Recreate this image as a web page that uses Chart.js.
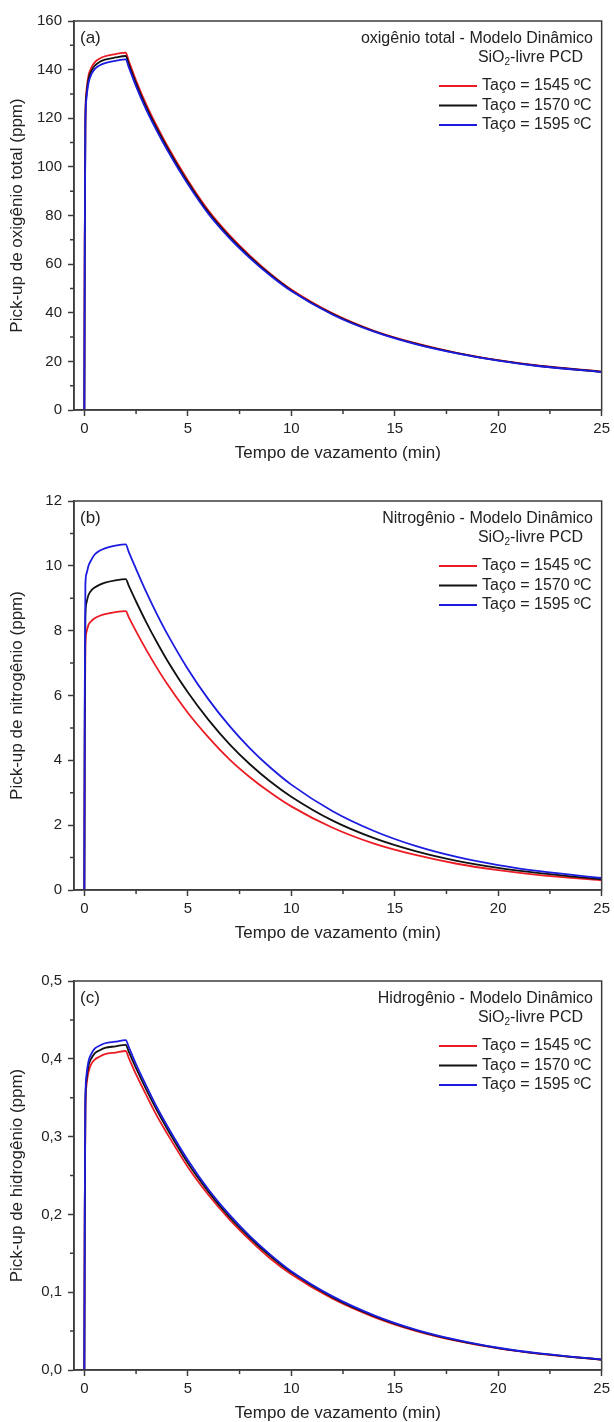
<!DOCTYPE html>
<html lang="pt-br">
<head>
    <meta charset="UTF-8">
    <meta name="viewport" content="width=device-width, initial-scale=1.0">
    <title>Pick-up de gases - Modelo Dinâmico</title>
    <style>
        body{
            margin: 0;
            background: #fff;
            overflow: hidden;
        }
        .painel{
            position: relative;
            width: 614px;
            height: 480px;
        }
    </style>
</head>
<body>
    <div class="painel"><canvas id="graficoO"></canvas></div>
    <div class="painel"><canvas id="graficoN"></canvas></div>
    <div class="painel"><canvas id="graficoH"></canvas></div>

    <script src="https://cdn.jsdelivr.net/npm/chart.js"></script>

<script>
  // Pick-up de O, N e H durante o vazamento, para três temperaturas do aço

  const tempos = [0, 0.02, 0.05, 0.1, 0.2, 0.35, 0.5, 0.75, 1, 1.5, 2, 2.15, 2.5, 3, 3.5, 4, 5, 6, 7, 8, 9, 10, 12, 14, 16, 18, 20, 22, 25];
  const legendas = ["Taço = 1545 ºC", "Taço = 1570 ºC", "Taço = 1595 ºC"];
  const cores = ["#ec1c24", "#111111", "#1c1ce0"];
  const ticksX = [0, 5, 10, 15, 20, 25];

  // oxigênio total (ppm)
  const oxigenio1545 = [0, 70, 120, 131, 137.5, 141, 143, 144.6, 145.5, 146.4, 147, 143.5, 135.5, 125.5, 116.8, 108.8, 94.5, 82, 72, 63.5, 56, 49.6, 39.8, 32.6, 27.5, 23.5, 20.5, 18.2, 15.8];
  const oxigenio1570 = [0, 69, 118.5, 129.5, 136, 139.6, 141.6, 143.2, 144.1, 145, 145.6, 142.2, 134.3, 124.4, 115.8, 107.9, 93.7, 81.3, 71.4, 63, 55.6, 49.2, 39.5, 32.4, 27.3, 23.4, 20.4, 18.1, 15.7];
  const oxigenio1595 = [0, 68, 117, 128, 134.5, 138.2, 140.2, 141.8, 142.7, 143.6, 144.2, 140.9, 133.1, 123.3, 114.8, 107, 92.9, 80.6, 70.8, 62.5, 55.2, 48.9, 39.2, 32.2, 27.1, 23.3, 20.3, 18, 15.6];

  // nitrogênio (ppm)
  const nitrogenio1545 = [0, 4.8, 7.5, 7.95, 8.18, 8.3, 8.38, 8.46, 8.51, 8.57, 8.6, 8.41, 7.98, 7.4, 6.86, 6.36, 5.47, 4.71, 4.04, 3.48, 3.0, 2.58, 1.92, 1.43, 1.08, 0.81, 0.61, 0.46, 0.3];
  const nitrogenio1570 = [0, 5.4, 8.4, 8.85, 9.1, 9.25, 9.33, 9.42, 9.48, 9.55, 9.59, 9.38, 8.9, 8.25, 7.65, 7.09, 6.1, 5.25, 4.51, 3.88, 3.34, 2.88, 2.14, 1.6, 1.2, 0.9, 0.68, 0.52, 0.33];
  const nitrogenio1595 = [0, 6.0, 9.4, 9.75, 10.0, 10.2, 10.35, 10.47, 10.54, 10.62, 10.66, 10.42, 9.9, 9.18, 8.52, 7.91, 6.82, 5.88, 5.07, 4.37, 3.77, 3.25, 2.43, 1.82, 1.36, 1.02, 0.77, 0.58, 0.37];

  // hidrogênio (ppm)
  const hidrogenio1545 = [0, 0.2, 0.334, 0.365, 0.383, 0.394, 0.399, 0.403, 0.406, 0.408, 0.41, 0.401, 0.38, 0.353, 0.327, 0.304, 0.261, 0.225, 0.194, 0.167, 0.143, 0.123, 0.0915, 0.068, 0.0503, 0.0373, 0.0277, 0.0206, 0.0131];
  const hidrogenio1570 = [0, 0.205, 0.341, 0.372, 0.391, 0.401, 0.407, 0.411, 0.414, 0.416, 0.418, 0.409, 0.388, 0.36, 0.334, 0.31, 0.266, 0.229, 0.197, 0.17, 0.146, 0.1255, 0.0933, 0.0693, 0.0513, 0.038, 0.0282, 0.021, 0.0133];
  const hidrogenio1595 = [0, 0.208, 0.346, 0.378, 0.397, 0.407, 0.413, 0.417, 0.42, 0.422, 0.424, 0.415, 0.393, 0.365, 0.338, 0.314, 0.27, 0.232, 0.2, 0.172, 0.148, 0.127, 0.0946, 0.0703, 0.052, 0.0386, 0.0286, 0.0213, 0.0135];

  const FONTE = "'Liberation Sans', Arial, sans-serif";
  const COR_EIXO = "#3c3c3c";
  const COR_TEXTO = "#222";

  // moldura, ticks menores, letra do painel e legenda
  const decoracao = {
    id: 'decoracao',
    afterDraw(chart, args, opts) {
      const ctx = chart.ctx;
      const ca = chart.chartArea;
      const sx = chart.scales.x;
      const sy = chart.scales.y;
      ctx.save();

      ctx.strokeStyle = COR_EIXO;
      ctx.lineWidth = 1.5;
      ctx.strokeRect(ca.left, ca.top, ca.right - ca.left, ca.bottom - ca.top);

      // ticks menores para fora
      ctx.beginPath();
      for (let i = 0; i < ticksX.length - 1; i++) {
        const px = sx.getPixelForValue((ticksX[i] + ticksX[i + 1]) / 2);
        ctx.moveTo(px, ca.bottom);
        ctx.lineTo(px, ca.bottom + 4);
      }
      const ty = sy.ticks.map(t => t.value);
      for (let i = 0; i < ty.length - 1; i++) {
        const py = sy.getPixelForValue((ty[i] + ty[i + 1]) / 2);
        ctx.moveTo(ca.left, py);
        ctx.lineTo(ca.left - 4, py);
      }
      ctx.stroke();

      ctx.fillStyle = COR_TEXTO;
      ctx.textBaseline = 'middle';
      ctx.font = "17px " + FONTE;
      ctx.textAlign = 'left';
      ctx.fillText(opts.letra, ca.left + 6, ca.top + 17.5);

      ctx.font = "16px " + FONTE;
      ctx.textAlign = 'right';
      ctx.fillText(opts.titulo, ca.left + 519, ca.top + 17.5);

      // SiO2 com o 2 subscrito
      const xFim = ca.left + 509;
      const yS = ca.top + 36.5;
      const resto = "-livre PCD";
      const wResto = ctx.measureText(resto).width;
      ctx.fillText(resto, xFim, yS);
      ctx.font = "10px " + FONTE;
      const w2 = ctx.measureText("2").width;
      ctx.fillText("2", xFim - wResto, yS + 5);
      ctx.font = "16px " + FONTE;
      ctx.fillText("SiO", xFim - wResto - w2, yS);

      const yLeg = [65, 84.5, 104];
      chart.data.datasets.forEach((ds, i) => {
        const y = ca.top + yLeg[i];
        ctx.strokeStyle = ds.borderColor;
        ctx.lineWidth = 2;
        ctx.beginPath();
        ctx.moveTo(ca.left + 365, y);
        ctx.lineTo(ca.left + 403, y);
        ctx.stroke();
        ctx.textAlign = 'left';
        ctx.fillStyle = COR_TEXTO;
        ctx.fillText(ds.label, ca.left + 408, y);
      });

      ctx.restore();
    }
  };

  function criarGrafico(id, series, yMax, yPasso, yTitulo, letra, titulo, decimal) {
    const ctx = document.getElementById(id);
    return new Chart(ctx, {
      type: 'line',
      data: {
        labels: tempos,
        datasets: series.map((s, i) => ({
          label: legendas[i],
          data: tempos.map((t, k) => ({ x: t, y: s[k] })),
          borderColor: cores[i],
          borderWidth: 1.8,
          pointRadius: 0,
          fill: false,
          cubicInterpolationMode: 'monotone',
          order: 2 - i // azul por cima
        }))
      },
      options: {
        responsive: true,
        maintainAspectRatio: false,
        animation: false,
        events: [],
        layout: { padding: { top: 21, right: 9, left: 0, bottom: 0 } },
        plugins: {
          legend: { display: false },
          tooltip: { enabled: false },
          decoracao: { letra: letra, titulo: titulo }
        },
        scales: {
          x: {
            type: 'linear',
            min: -0.5,
            max: 25,
            afterBuildTicks: s => { s.ticks = ticksX.map(v => ({ value: v })); },
            afterFit: s => { s.height = 70; },
            ticks: { color: COR_TEXTO, font: { family: FONTE, size: 15 }, padding: 4, maxRotation: 0, autoSkip: false },
            grid: { drawOnChartArea: false, drawTicks: true, tickLength: 6, tickColor: COR_EIXO, tickWidth: 1.5 },
            border: { color: COR_EIXO, width: 1.5 },
            title: { display: true, text: 'Tempo de vazamento (min)', color: COR_TEXTO, font: { family: FONTE, size: 17 }, padding: { top: 0, bottom: 16 } }
          },
          y: {
            min: 0,
            max: yMax,
            afterFit: s => { s.width = 74; },
            ticks: {
              stepSize: yPasso,
              color: COR_TEXTO,
              font: { family: FONTE, size: 15 },
              padding: 6,
              callback: v => decimal ? v.toFixed(1).replace('.', ',') : String(Math.round(v))
            },
            grid: { drawOnChartArea: false, drawTicks: true, tickLength: 6, tickColor: COR_EIXO, tickWidth: 1.5 },
            border: { color: COR_EIXO, width: 1.5 },
            title: { display: true, text: yTitulo, color: COR_TEXTO, font: { family: FONTE, size: 17 }, padding: { top: 7, bottom: 0 } }
          }
        }
      },
      plugins: [decoracao]
    });
  }

  criarGrafico('graficoO', [oxigenio1545, oxigenio1570, oxigenio1595], 160, 20,
    'Pick-up de oxigênio total (ppm)', '(a)', 'oxigênio total - Modelo Dinâmico', false);
  criarGrafico('graficoN', [nitrogenio1545, nitrogenio1570, nitrogenio1595], 12, 2,
    'Pick-up de nitrogênio (ppm)', '(b)', 'Nitrogênio - Modelo Dinâmico', false);
  criarGrafico('graficoH', [hidrogenio1545, hidrogenio1570, hidrogenio1595], 0.5, 0.1,
    'Pick-up de hidrogênio (ppm)', '(c)', 'Hidrogênio - Modelo Dinâmico', true);
</script>
</body>
</html>
